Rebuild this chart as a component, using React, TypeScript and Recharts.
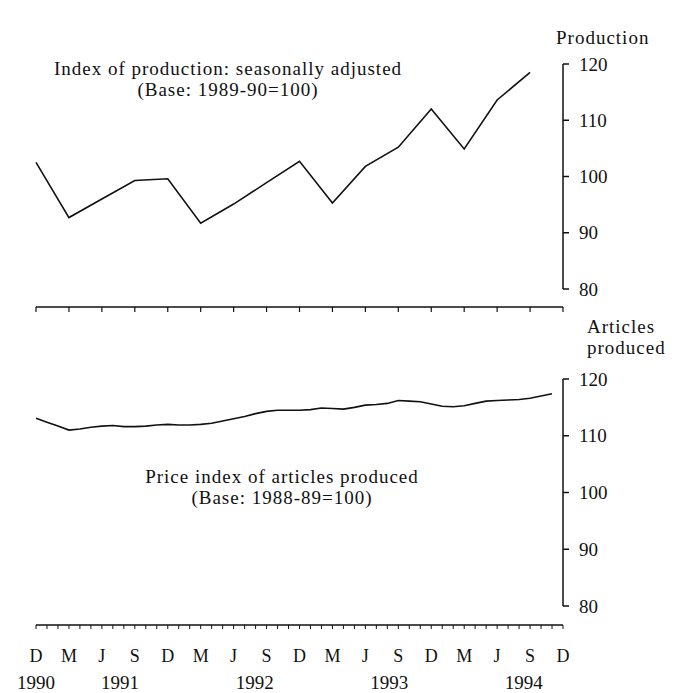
import { LineChart, Line, XAxis, YAxis, ReferenceLine } from "recharts";

const quarterLabels = ["D", "M", "J", "S", "D", "M", "J", "S", "D", "M", "J", "S", "D", "M", "J", "S", "D"];
const yearLabels = ["1990", "1991", "1992", "1993", "1994"];
const yearTicks = [0, 7.5, 19.5, 31.5, 43.5];
const yTicks = [80, 90, 100, 110, 120];

// index of production, quarterly, Dec 1990 - Sep 1994
const productionIndex = [102.5, 92.7, 96.0, 99.3, 99.6, 91.7, 95.1, 98.9, 102.7, 95.3, 101.8, 105.2, 112.0, 104.9, 113.6, 118.5];

// price index of articles produced, monthly, Dec 1990 - Nov 1994
const priceIndex = [
  113.1, 112.4, 111.7, 111.0, 111.2, 111.5, 111.7, 111.8, 111.6, 111.6, 111.7, 111.9,
  112.0, 111.9, 111.9, 112.0, 112.2, 112.6, 113.0, 113.4, 113.9, 114.3, 114.5, 114.5,
  114.5, 114.6, 114.9, 114.8, 114.7, 115.0, 115.4, 115.5, 115.7, 116.2, 116.1, 116.0,
  115.6, 115.2, 115.1, 115.3, 115.7, 116.1, 116.2, 116.3, 116.4, 116.6, 117.0, 117.4,
];

const prodData = productionIndex.map((v, i) => ({ m: i * 3, v }));
const priceData = priceIndex.map((v, i) => ({ m: i, v }));

const monthTicks = Array.from({ length: 49 }, (_, i) => i);
const quarterTicks = monthTicks.filter((m) => m % 3 === 0);

const font = "'Liberation Serif', 'Times New Roman', serif";
const ink = "#111";
const tickFont = { fill: ink, fontSize: 19, fontFamily: font };

const label = (left: number, top: number, width: number, align: "left" | "center", text: string[]) => (
  <div
    style={{
      position: "absolute",
      left,
      top,
      width,
      textAlign: align,
      fontSize: 19,
      lineHeight: "21px",
      letterSpacing: 1,
      color: ink,
    }}
  >
    {text.map((t) => (
      <div key={t}>{t}</div>
    ))}
  </div>
);

export default function App() {
  return (
    <div style={{ position: "absolute", left: 0, top: 0, width: 689, height: 693, background: "#fff", fontFamily: font }}>
      <div style={{ position: "absolute", left: 0, top: 0 }}>
        <LineChart width={689} height={320} data={prodData} margin={{ top: 64, right: 66, left: 36, bottom: 0 }}>
          <XAxis
            dataKey="m"
            type="number"
            domain={[0, 48]}
            ticks={quarterTicks}
            interval={0}
            tickFormatter={() => ""}
            tickSize={5}
            height={13}
            axisLine={{ stroke: ink, strokeWidth: 1.5 }}
            tickLine={{ stroke: ink, strokeWidth: 1.2 }}
          />
          <YAxis
            orientation="right"
            domain={[80, 120]}
            ticks={yTicks}
            interval={0}
            padding={{ top: 0, bottom: 18 }}
            axisLine={false}
            tickLine={{ stroke: ink, strokeWidth: 1.5 }}
            tickSize={6}
            tickMargin={10}
            width={60}
            tick={tickFont}
          />
          <ReferenceLine segment={[{ x: 48, y: 80 }, { x: 48, y: 120 }]} stroke={ink} strokeWidth={1.5} />
          <Line dataKey="v" stroke={ink} strokeWidth={1.6} dot={false} isAnimationActive={false} />
        </LineChart>
      </div>

      <div style={{ position: "absolute", left: 0, top: 320 }}>
        <LineChart width={689} height={373} data={priceData} margin={{ top: 59, right: 66, left: 36, bottom: 0 }}>
          <XAxis
            dataKey="m"
            type="number"
            domain={[0, 48]}
            ticks={monthTicks}
            interval={0}
            tickFormatter={(v: number) => (v % 3 === 0 ? quarterLabels[v / 3] : "")}
            tickSize={4}
            tickMargin={20}
            height={30}
            axisLine={{ stroke: ink, strokeWidth: 1.5 }}
            tickLine={{ stroke: ink, strokeWidth: 1 }}
            tick={{ fill: ink, fontSize: 18, fontFamily: font }}
          />
          <XAxis
            xAxisId="yr"
            type="number"
            domain={[0, 48]}
            allowDataOverflow
            ticks={yearTicks}
            interval={0}
            tickFormatter={(v: number) => yearLabels[yearTicks.indexOf(v)]}
            axisLine={false}
            tickLine={false}
            tickSize={0}
            tickMargin={21}
            height={38}
            tick={tickFont}
          />
          <YAxis
            orientation="right"
            domain={[80, 120]}
            ticks={yTicks}
            interval={0}
            padding={{ top: 0, bottom: 19 }}
            axisLine={false}
            tickLine={{ stroke: ink, strokeWidth: 1.5 }}
            tickSize={6}
            tickMargin={10}
            width={60}
            tick={tickFont}
          />
          <ReferenceLine segment={[{ x: 48, y: 80 }, { x: 48, y: 120 }]} stroke={ink} strokeWidth={1.5} />
          <Line dataKey="v" stroke={ink} strokeWidth={1.6} dot={false} isAnimationActive={false} />
        </LineChart>
      </div>

      {label(556, 27, 130, "left", ["Production"])}
      {label(-22, 58, 500, "center", ["Index of production: seasonally adjusted", "(Base: 1989-90=100)"])}
      {label(587, 316, 100, "left", ["Articles", "produced"])}
      {label(32, 466, 500, "center", ["Price index of articles produced", "(Base: 1988-89=100)"])}
    </div>
  );
}
